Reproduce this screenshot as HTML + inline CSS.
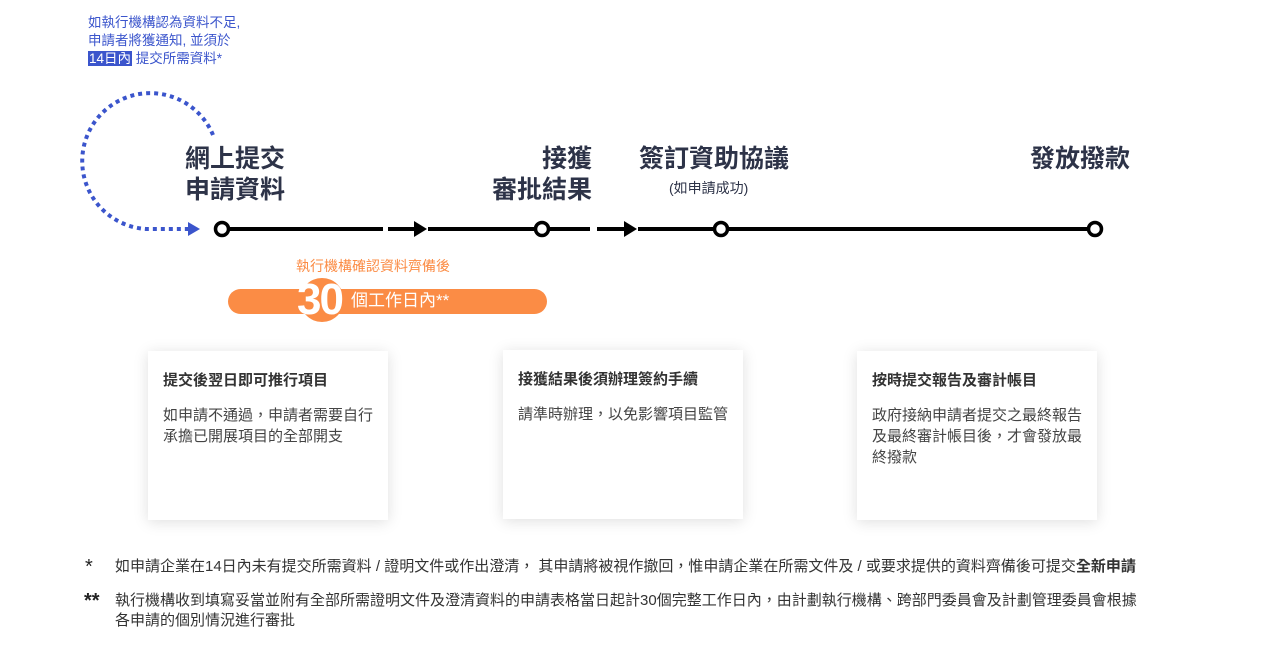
<!DOCTYPE html>
<html><head><meta charset="utf-8"><style>
*{margin:0;padding:0;box-sizing:border-box}
body{width:1280px;height:672px;background:#fff;position:relative;overflow:hidden;font-family:"Liberation Sans","Noto Sans CJK TC",sans-serif}
.a{position:absolute;white-space:nowrap}
.h{color:#2d3348;font-weight:bold;font-size:25px;line-height:31px}
.card{position:absolute;width:240px;height:169px;background:#fff;box-shadow:0 2px 14px rgba(0,0,0,0.13);padding:20px 15px}
.card b{display:block;font-size:15px;color:#333;margin-bottom:14px;line-height:20px}
.card p{font-size:15px;color:#444;line-height:21px}
.fn{font-size:15px;color:#333;line-height:20px}
</style></head><body>
<div class="a" style="left:88px;top:14px;font-size:13.5px;line-height:18px;color:#3b55cc">如執行機構認為資料不足,<br>申請者將獲通知, 並須於<br><span style="background:#3b55cc;color:#fff;padding:0 1px">14日內</span> 提交所需資料*</div>

<svg class="a" style="left:0;top:0" width="1280" height="340">
<path d="M213,135 A68,68 0 1 0 146,229 L188,229" fill="none" stroke="#3b55cc" stroke-width="4" stroke-dasharray="4,4"/>
<polygon points="188,222 200,229 188,236" fill="#3b55cc"/>
<g stroke="#000" stroke-width="4" fill="none">
<line x1="222" y1="229" x2="383" y2="229"/>
<line x1="388" y1="229" x2="416" y2="229"/>
<line x1="428" y1="229" x2="590" y2="229"/>
<line x1="597" y1="229" x2="626" y2="229"/>
<line x1="638" y1="229" x2="1095" y2="229"/>
</g>
<polygon points="414,221 427,229 414,237" fill="#000"/>
<polygon points="624,221 637,229 624,237" fill="#000"/>
<g fill="#fff" stroke="#000" stroke-width="3.5">
<circle cx="222" cy="229" r="6.5"/><circle cx="542" cy="229" r="6.5"/><circle cx="721" cy="229" r="6.5"/><circle cx="1095" cy="229" r="6.5"/>
</g>
<rect x="228" y="289" width="319" height="25" rx="12.5" fill="#fb8c45"/>
<circle cx="322" cy="300" r="22" fill="#fb8c45"/>
</svg>

<div class="a h" style="left:185px;top:144px">網上提交<br>申請資料</div>
<div class="a h" style="left:490px;top:144px;text-align:right;width:102px">接獲<br>審批結果</div>
<div class="a h" style="left:639px;top:144px">簽訂資助協議</div>
<div class="a" style="left:669px;top:178px;font-size:14px;color:#2d3348">(如申請成功)</div>
<div class="a h" style="left:1030px;top:144px">發放撥款</div>

<div class="a" style="left:296px;top:256px;font-size:14px;color:#fb8c45">執行機構確認資料齊備後</div>
<div class="a" style="left:297px;top:276px;font-size:44px;font-weight:bold;color:#fff;letter-spacing:-2px;line-height:48px">30</div>
<div class="a" style="left:351px;top:290px;font-size:17px;color:#fff;line-height:22px">個工作日內**</div>

<div class="card" style="left:148px;top:351px"><b>提交後翌日即可推行項目</b><p>如申請不通過，申請者需要自行<br>承擔已開展項目的全部開支</p></div>
<div class="card" style="left:503px;top:350px"><b>接獲結果後須辦理簽約手續</b><p>請準時辦理，以免影響項目監管</p></div>
<div class="card" style="left:857px;top:351px"><b>按時提交報告及審計帳目</b><p>政府接納申請者提交之最終報告<br>及最終審計帳目後，才會發放最<br>終撥款</p></div>

<div class="a" style="left:85px;top:556px;font-size:20px;color:#222">*</div>
<div class="a fn" style="left:115px;top:557px">如申請企業在14日內未有提交所需資料 / 證明文件或作出澄清， 其申請將被視作撤回，惟申請企業在所需文件及 / 或要求提供的資料齊備後可提交<b>全新申請</b></div>
<div class="a" style="left:84px;top:590px;font-size:20px;color:#222;font-weight:bold">**</div>
<div class="a fn" style="left:115px;top:591px">執行機構收到填寫妥當並附有全部所需證明文件及澄清資料的申請表格當日起計30個完整工作日內，由計劃執行機構、跨部門委員會及計劃管理委員會根據<br>各申請的個別情況進行審批</div>
</body></html>
